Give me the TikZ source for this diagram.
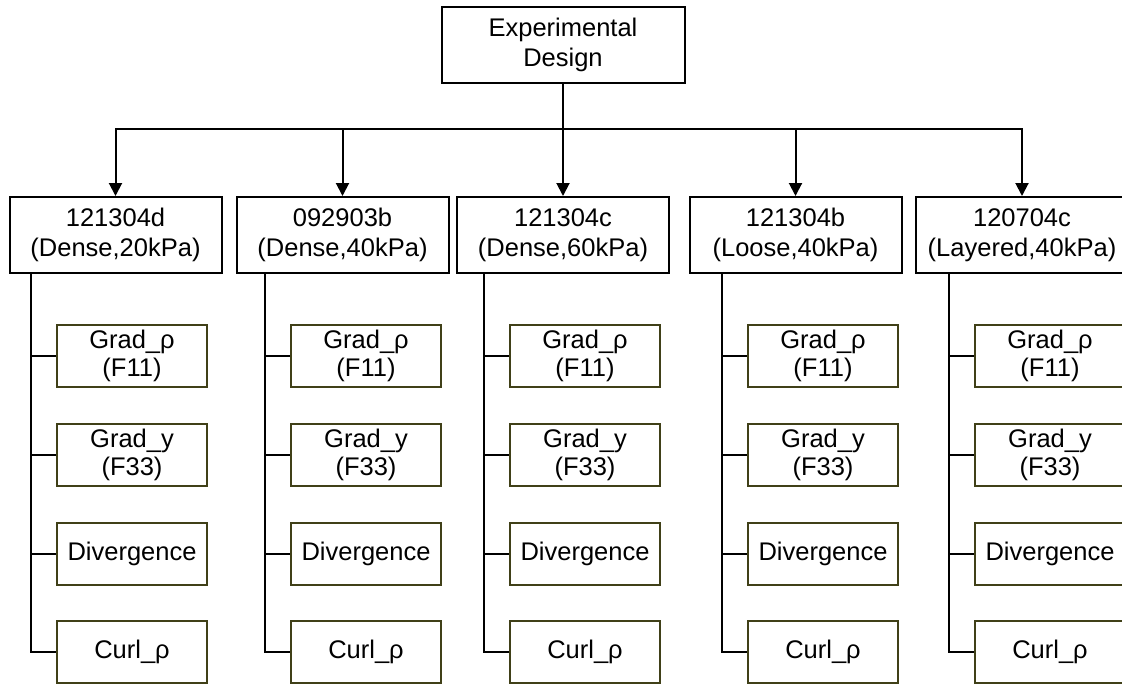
\documentclass[tikz,border=0pt]{standalone}
\usepackage{fontspec}
\setmainfont{Liberation Sans}
\usepackage{xcolor}
\usetikzlibrary{arrows.meta,positioning}

\definecolor{subedge}{RGB}{64,64,24}

\begin{document}
\begin{tikzpicture}[
  x=1pt, y=-1pt,
  box/.style={rectangle, draw, line width=2pt, align=center, inner sep=0pt,
              font=\fontsize{25.5}{30}\selectfont},
  root/.style={box, minimum width=243pt, minimum height=76pt},
  case/.style={box, minimum width=212pt, minimum height=76pt},
  metric/.style={box, draw=subedge, minimum width=150pt, minimum height=62pt,
                 font=\fontsize{25.5}{28.5}\selectfont},
  arr/.style={-{Triangle[length=13pt,width=13pt]}, line width=2pt},
  rel/.style={-{}, line width=2pt}
]
  \useasboundingbox (0,0) rectangle (1122,683);

  \node[root] (Design) at (563,45) {Experimental\\Design};

  \node[case] (D20) at (115.5,235) {121304d\\(Dense,20kPa)};
  \node[case] (D40) at (342.5,235) {092903b\\(Dense,40kPa)};
  \node[case] (D60) at (563,235) {121304c\\(Dense,60kPa)};
  \node[case] (L40) at (795.5,235) {121304b\\(Loose,40kPa)};
  \node[case] (Y40) at (1022,235) {120704c\\(Layered,40kPa)};

  % metrics per case
  \node[metric] (D20rho) at (132,356) {Grad\_ρ\\(F11)};
  \node[metric] (D20y) at (132,455) {Grad\_y\\(F33)};
  \node[metric] (D20div) at (132,553.5) {Divergence};
  \node[metric] (D20curl) at (132,652) {Curl\_ρ};

  \node[metric] (D40rho) at (366,356) {Grad\_ρ\\(F11)};
  \node[metric] (D40y) at (366,455) {Grad\_y\\(F33)};
  \node[metric] (D40div) at (366,553.5) {Divergence};
  \node[metric] (D40curl) at (366,652) {Curl\_ρ};

  \node[metric] (D60rho) at (585,356) {Grad\_ρ\\(F11)};
  \node[metric] (D60y) at (585,455) {Grad\_y\\(F33)};
  \node[metric] (D60div) at (585,553.5) {Divergence};
  \node[metric] (D60curl) at (585,652) {Curl\_ρ};

  \node[metric] (L40rho) at (823,356) {Grad\_ρ\\(F11)};
  \node[metric] (L40y) at (823,455) {Grad\_y\\(F33)};
  \node[metric] (L40div) at (823,553.5) {Divergence};
  \node[metric] (L40curl) at (823,652) {Curl\_ρ};

  \node[metric] (Y40rho) at (1050,356) {Grad\_ρ\\(F11)};
  \node[metric] (Y40y) at (1050,455) {Grad\_y\\(F33)};
  \node[metric] (Y40div) at (1050,553.5) {Divergence};
  \node[metric] (Y40curl) at (1050,652) {Curl\_ρ};

  % design tree
  \draw[arr] (Design.south) -- ++(0,45) -| (D20.north);
  \draw[arr] (Design.south) -- ++(0,45) -| (D40.north);
  \draw[arr] (Design) -- (D60);
  \draw[arr] (Design.south) -- ++(0,45) -| (L40.north);
  \draw[arr] (Design.south) -- ++(0,45) -| (Y40.north);

  % trunks
  \coordinate (tD20) at (31,273);
  \coordinate (tD40) at (265,273);
  \coordinate (tD60) at (484,273);
  \coordinate (tL40) at (722,273);
  \coordinate (tY40) at (949,273);

  \draw[rel] (tD20) |- (D20rho.west);
  \draw[rel] (tD20) |- (D20y.west);
  \draw[rel] (tD20) |- (D20div.west);
  \draw[rel] (tD20) |- (D20curl.west);

  \draw[rel] (tD40) |- (D40rho.west);
  \draw[rel] (tD40) |- (D40y.west);
  \draw[rel] (tD40) |- (D40div.west);
  \draw[rel] (tD40) |- (D40curl.west);

  \draw[rel] (tD60) |- (D60rho.west);
  \draw[rel] (tD60) |- (D60y.west);
  \draw[rel] (tD60) |- (D60div.west);
  \draw[rel] (tD60) |- (D60curl.west);

  \draw[rel] (tL40) |- (L40rho.west);
  \draw[rel] (tL40) |- (L40y.west);
  \draw[rel] (tL40) |- (L40div.west);
  \draw[rel] (tL40) |- (L40curl.west);

  \draw[rel] (tY40) |- (Y40rho.west);
  \draw[rel] (tY40) |- (Y40y.west);
  \draw[rel] (tY40) |- (Y40div.west);
  \draw[rel] (tY40) |- (Y40curl.west);
\end{tikzpicture}
\end{document}
